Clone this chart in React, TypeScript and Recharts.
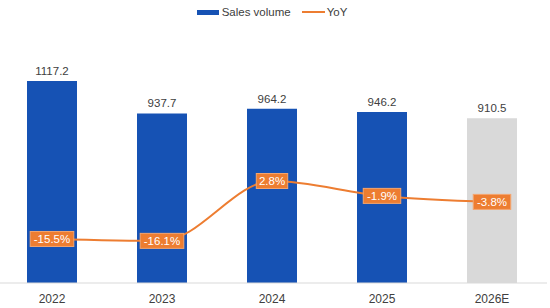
import React from 'react';
import { ComposedChart, Bar, Line, XAxis, YAxis, Legend, LabelList, Cell } from 'recharts';

const categories = ['2022', '2023', '2024', '2025', '2026E'];
const salesVolume = [1117.2, 937.7, 964.2, 946.2, 910.5];
const yoy = [-15.5, -16.1, 2.8, -1.9, -3.8];
const forecastFlags = [false, false, false, false, true];

const data = categories.map((c, i) => ({ year: c, sales: salesVolume[i], yoy: yoy[i], forecast: forecastFlags[i] }));

const BLUE = '#1652B4';
const GREY = '#D9D9D9';
const ORANGE = '#ED7D31';
const FONT = 'Liberation Sans, Arial, sans-serif';

const YoyLabel = (props: any) => {
  const { x, y, value } = props;
  const text = `${value}%`;
  const w = text.length * 6.1 + 7;
  const h = 15;
  return (
    <g>
      <rect x={x - w / 2} y={y - h / 2} width={w} height={h} fill={ORANGE} stroke="#F4A56E" strokeWidth={1} />
      <text x={x} y={y + 4} textAnchor="middle" fill="#FFFFFF" fontSize={11.5} fontFamily={FONT}>{text}</text>
    </g>
  );
};

const LegendContent = () => (
  <div style={{ display: 'flex', justifyContent: 'center', alignItems: 'center', fontFamily: FONT, fontSize: 11.5, color: '#404040', height: 20 }}>
    <div style={{ display: 'flex', alignItems: 'center', marginRight: 11 }}>
      <span style={{ display: 'inline-block', width: 22, height: 5, background: BLUE, marginRight: 3 }} />
      <span>Sales volume</span>
    </div>
    <div style={{ display: 'flex', alignItems: 'center' }}>
      <span style={{ display: 'inline-block', width: 23, height: 2, background: ORANGE, marginRight: 2 }} />
      <span>YoY</span>
    </div>
  </div>
);

export default function App() {
  return (
    <div style={{ position: 'absolute', left: -3, top: 0, width: 550, height: 308 }}>
      <ComposedChart width={550} height={308} data={data} margin={{ top: 46, right: 0, bottom: 5, left: 0 }} barCategoryGap={0}>
        <Legend verticalAlign="top" height={20} content={<LegendContent />} wrapperStyle={{ top: 2 }} />
        <XAxis dataKey="year" axisLine={{ stroke: '#D9D9D9', strokeWidth: 1 }} tickLine={false} height={20} tickMargin={5}
          tick={{ fill: '#404040', fontSize: 12, fontFamily: FONT }} interval={0} />
        <YAxis yAxisId="left" hide domain={[0, 1200]} />
        <YAxis yAxisId="right" orientation="right" hide domain={[-29.4, 39.1]} />
        <Bar yAxisId="left" dataKey="sales" barSize={50} isAnimationActive={false}>
          {data.map((d, i) => (
            <Cell key={i} fill={d.forecast ? GREY : BLUE} />
          ))}
          <LabelList dataKey="sales" position="top" offset={6} fill="#404040" fontSize={11.5} fontFamily={FONT} />
        </Bar>
        <Line yAxisId="right" type="monotone" dataKey="yoy" stroke={ORANGE} strokeWidth={2} dot={false} isAnimationActive={false}>
          <LabelList dataKey="yoy" content={<YoyLabel />} />
        </Line>
      </ComposedChart>
    </div>
  );
}
